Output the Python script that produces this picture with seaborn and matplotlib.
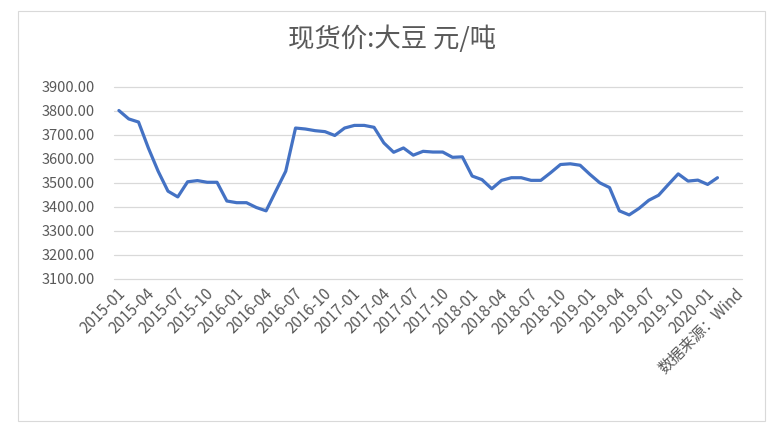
import numpy as np
import pandas as pd
import matplotlib
matplotlib.use("Agg")
import matplotlib.pyplot as plt
import matplotlib.transforms as mtransforms
from matplotlib.patches import Rectangle
import seaborn as sns

# ---- data (monthly, 2015-01 .. 2020-02) ----
months = pd.date_range("2015-01-01", "2020-02-01", freq="MS").strftime("%Y-%m").tolist()
prices = [3802, 3767, 3754, 3646, 3549, 3466, 3442, 3505, 3510, 3503,
          3503, 3425, 3418, 3418, 3398, 3384, 3467, 3549, 3729, 3725,
          3718, 3714, 3698, 3729, 3740, 3740, 3732, 3667, 3628, 3646,
          3616, 3632, 3629, 3629, 3607, 3609, 3529, 3514, 3476, 3511,
          3522, 3522, 3511, 3511, 3543, 3577, 3580, 3574, 3536, 3501,
          3481, 3384, 3367, 3394, 3428, 3449, 3494, 3538, 3508, 3512,
          3494, 3522]
tick_labels = ["2015-01", "2015-04", "2015-07", "2015-10",
               "2016-01", "2016-04", "2016-07", "2016-10",
               "2017-01", "2017-04", "2017-07", "2017-10",
               "2018-01", "2018-04", "2018-07", "2018-10",
               "2019-01", "2019-04", "2019-07", "2019-10",
               "2020-01", "数据来源：Wind"]
n_categories = 64
title = "现货价:大豆 元/吨"

df = pd.DataFrame({"pos": np.arange(len(prices)), "month": months, "price": prices})

sns.set_theme(style="white")
plt.rcParams["font.family"] = ["Noto Sans CJK SC", "DejaVu Sans"]

fig = plt.figure(figsize=(7.84, 4.28), dpi=100)
fig.patch.set_facecolor("white")
fig.patches.append(Rectangle((18 / 784, 1 - 421 / 428), (765 - 18) / 784, (421 - 11) / 428,
                             transform=fig.transFigure, fill=False,
                             edgecolor="#D9D9D9", linewidth=0.8))

ax = fig.add_axes([114 / 784, 1 - 279 / 428, (742 - 114) / 784, (279 - 87) / 428])
sns.lineplot(data=df, x="pos", y="price", ax=ax, color="#4472C4", linewidth=2.3)

ax.set_xlim(-0.5, n_categories - 0.5)
ax.set_ylim(3100, 3900)
ax.set_yticks(np.arange(3100, 3901, 100))
ax.set_yticklabels([f"{v:.2f}" for v in np.arange(3100, 3901, 100)])
ax.grid(axis="y", color="#D9D9D9", linewidth=0.9)
ax.grid(axis="x", visible=False)
for gl in ax.get_ygridlines():
    gl.set_clip_on(False)
for s in ax.spines.values():
    s.set_visible(False)

ax.set_xticks(np.arange(0, n_categories, 3))
ax.set_xticklabels(tick_labels, rotation=45, ha="right", va="center",
                   rotation_mode="anchor")
ax.tick_params(axis="x", length=0, pad=9, labelsize=11, labelcolor="#595959")
ax.tick_params(axis="y", length=0, pad=14, labelsize=10.5, labelcolor="#595959")
offset = mtransforms.ScaledTranslation(4 / 100, 0, fig.dpi_scale_trans)
for lab in ax.get_xticklabels():
    lab.set_transform(lab.get_transform() + offset)

ax.set_xlabel("")
ax.set_ylabel("")
fig.text(0.5, 1 - 39 / 428, title, ha="center", va="center",
         fontsize=19, color="#595959")

fig.savefig("out.png", dpi=100)
